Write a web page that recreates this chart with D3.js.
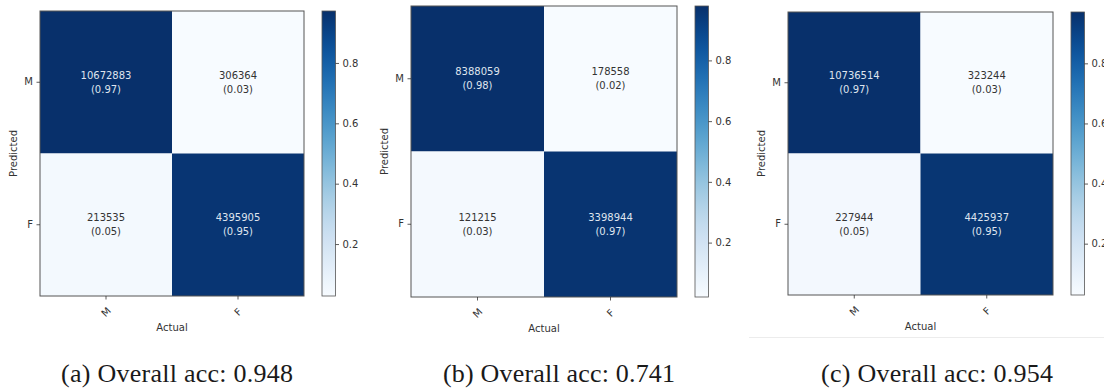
<!DOCTYPE html>
<html>
<head>
<meta charset="utf-8">
<style>
  body { margin: 0; background: #fff; }
  svg { display: block; }
  .tick text { font-family: "DejaVu Sans", sans-serif; font-size: 10px; fill: #333; }
  .tick line { stroke: #333; stroke-width: 0.8; }
  .lbl { font-family: "DejaVu Sans", sans-serif; font-size: 10px; fill: #333; }
  .cell-text { font-family: "DejaVu Sans", sans-serif; font-size: 10px; }
  .caption { font-family: "Liberation Serif", serif; font-size: 26px; fill: #1a1a1a; }
</style>
</head>
<body>
<svg id="chart"></svg>
<script src="https://cdn.jsdelivr.net/npm/d3@7"></script>
<script>

  // class labels (rows = predicted, columns = actual)
  const classes = ["M", "F"]

  // raw counts of each confusion matrix
  const countsA = [[10672883, 306364], [213535, 4395905]]
  const countsB = [[8388059, 178558], [121215, 3398944]]
  const countsC = [[10736514, 323244], [227944, 4425937]]

  const captions = ["(a) Overall acc: 0.948",
                    "(b) Overall acc: 0.741",
                    "(c) Overall acc: 0.954"]

  const cbarTicks = [0.2, 0.4, 0.6, 0.8]

  // where each subplot sits on the page
  const layout = [
    {x0: 40,  x1: 304,  y0: 11, y1: 296, cb: 322,  capX: 177},
    {x0: 411, x1: 677,  y0: 6,  y1: 297, cb: 695,  capX: 559},
    {x0: 788, x1: 1053, y0: 12, y1: 295, cb: 1071, capX: 937}
  ]

  const W = 1104, H = 389, cbWidth = 13.5

  const svg = d3.select("#chart")
      .attr("width", W)
      .attr("height", H)

  const defs = svg.append("defs")

  // faint rule under the third panel (from the screenshot)
  svg.append("line")
    .attr("x1", 749).attr("x2", W)
    .attr("y1", 337.5).attr("y2", 337.5)
    .attr("stroke", "#ececec")

  const fmt = d3.format(".2f")

  ;[countsA, countsB, countsC].forEach((counts, p) => {
    const L = layout[p]

    // row-normalised values
    const cells = []
    counts.forEach((row, i) => {
      const total = d3.sum(row)
      row.forEach((c, j) => cells.push({pred: classes[i], act: classes[j], count: c, v: c / total}))
    })
    const ext = d3.extent(cells, d => d.v)

    const x = d3.scaleBand().domain(classes).range([L.x0, L.x1])
    const y = d3.scaleBand().domain(classes).range([L.y0, L.y1])
    const color = d3.scaleSequential(d3.interpolateBlues).domain(ext)
    const thresh = d3.max(cells, d => d.v) / 2

    const g = svg.append("g")

    g.selectAll("rect.cell")
      .data(cells)
      .enter().append("rect")
        .attr("class", "cell")
        .attr("x", d => x(d.act))
        .attr("y", d => y(d.pred))
        .attr("width", x.bandwidth())
        .attr("height", y.bandwidth())
        .attr("fill", d => color(d.v))

    const txt = g.selectAll("text.cell-text")
      .data(cells)
      .enter().append("text")
        .attr("class", "cell-text")
        .attr("text-anchor", "middle")
        .attr("x", d => x(d.act) + x.bandwidth() / 2)
        .attr("y", d => y(d.pred) + y.bandwidth() / 2)
        .attr("fill", d => d.v > thresh ? "#dfe4ee" : "#333")
    txt.append("tspan")
      .attr("x", d => x(d.act) + x.bandwidth() / 2)
      .attr("dy", "-0.35em")
      .text(d => d.count)
    txt.append("tspan")
      .attr("x", d => x(d.act) + x.bandwidth() / 2)
      .attr("dy", "1.4em")
      .text(d => "(" + fmt(d.v) + ")")

    // frame
    g.append("rect")
      .attr("x", L.x0).attr("y", L.y0)
      .attr("width", L.x1 - L.x0).attr("height", L.y1 - L.y0)
      .attr("fill", "none")
      .attr("stroke", "#555")
      .attr("stroke-width", 1)

    // y axis
    const ya = g.append("g")
      .attr("transform", `translate(${L.x0}, 0)`)
      .call(d3.axisLeft(y).tickSize(3.5).tickPadding(3.5))
    ya.select(".domain").remove()

    // x axis with rotated labels
    const xa = g.append("g")
      .attr("transform", `translate(0, ${L.y1})`)
      .call(d3.axisBottom(x).tickSize(3.5).tickPadding(3.5))
    xa.select(".domain").remove()
    xa.selectAll(".tick text")
      .attr("dy", null)
      .attr("y", 0)
      .attr("text-anchor", "middle")
      .attr("dominant-baseline", "central")
      .attr("transform", "translate(0, 16) rotate(-45)")

    g.append("text")
      .attr("class", "lbl")
      .attr("text-anchor", "middle")
      .attr("x", (L.x0 + L.x1) / 2)
      .attr("y", L.y1 + 35)
      .text("Actual")

    g.append("text")
      .attr("class", "lbl")
      .attr("text-anchor", "middle")
      .attr("transform", `translate(${L.x0 - 23}, ${(L.y0 + L.y1) / 2}) rotate(-90)`)
      .text("Predicted")

    // colorbar
    const gradId = "grad" + p
    const grad = defs.append("linearGradient")
      .attr("id", gradId)
      .attr("x1", 0).attr("y1", 1).attr("x2", 0).attr("y2", 0)
    d3.range(0, 1.0001, 0.05).forEach(t => {
      grad.append("stop")
        .attr("offset", t)
        .attr("stop-color", d3.interpolateBlues(t))
    })
    g.append("rect")
      .attr("x", L.cb).attr("y", L.y0)
      .attr("width", cbWidth).attr("height", L.y1 - L.y0)
      .attr("fill", `url(#${gradId})`)
      .attr("stroke", "#555")
      .attr("stroke-width", 0.8)

    const cScale = d3.scaleLinear().domain(ext).range([L.y1, L.y0])
    const ca = g.append("g")
      .attr("transform", `translate(${L.cb + cbWidth}, 0)`)
      .call(d3.axisRight(cScale).tickValues(cbarTicks).tickFormat(d3.format(".1f"))
        .tickSize(3.5).tickPadding(3.5))
    ca.select(".domain").remove()

    // caption
    svg.append("text")
      .attr("class", "caption")
      .attr("text-anchor", "middle")
      .attr("x", L.capX)
      .attr("y", 382)
      .attr("textLength", 232)
      .attr("lengthAdjust", "spacing")
      .text(captions[p])
  })

</script>
</body>
</html>
